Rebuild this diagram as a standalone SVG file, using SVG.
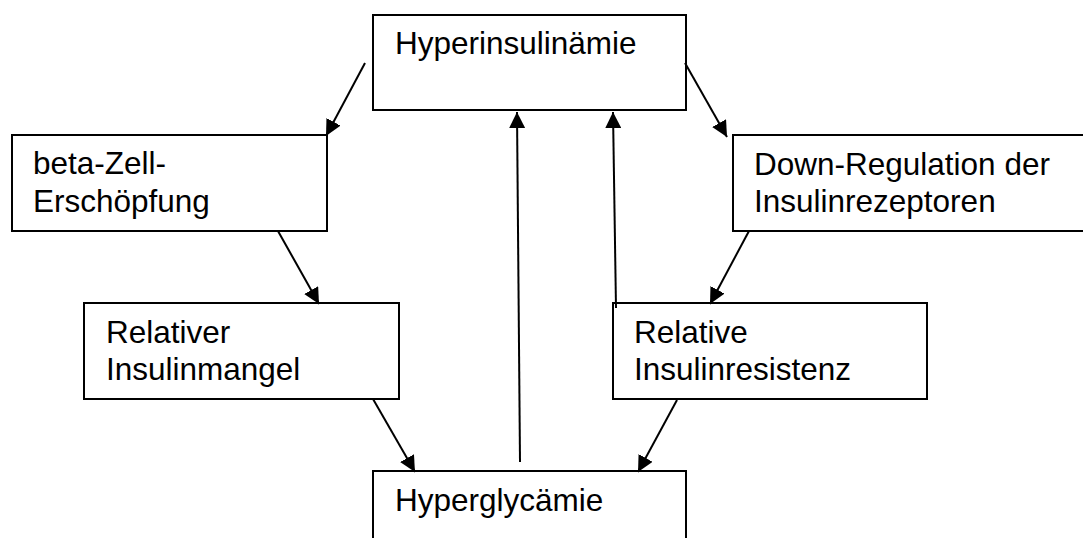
<svg xmlns="http://www.w3.org/2000/svg" width="1083" height="538" viewBox="0 0 1083 538">
<style>
.box{fill:#fff;stroke:#000;stroke-width:2}
.lbl{font-family:"Liberation Sans",Arial,sans-serif;font-size:31.5px;fill:#000}
.con{stroke:#000;stroke-width:2;fill:none;marker-end:url(#ah)}
</style>
<defs>
<marker id="ah" markerUnits="userSpaceOnUse" markerWidth="17" markerHeight="16" refX="16" refY="8" orient="auto">
<path d="M0,0 L16,8 L0,16 z" fill="#000"/>
</marker>
</defs>
<rect width="1083" height="538" fill="#fff"/>
<g id="n-hyperinsulinaemie">
<rect class="box" x="373" y="15" width="313" height="95"/>
<text class="lbl" x="395" y="54">Hyperinsulinämie</text>
</g>
<g id="n-beta">
<rect class="box" x="12" y="135" width="315" height="96"/>
<text class="lbl" x="33" y="174">beta-Zell-</text>
<text class="lbl" x="33" y="211.5">Erschöpfung</text>
</g>
<g id="n-down">
<rect class="box" x="733" y="135" width="360" height="96"/>
<text class="lbl" x="754" y="175">Down-Regulation der</text>
<text class="lbl" x="754" y="211.5">Insulinrezeptoren</text>
</g>
<g id="n-mangel">
<rect class="box" x="84" y="303" width="315" height="96"/>
<text class="lbl" x="106" y="342.5">Relativer</text>
<text class="lbl" x="106" y="380">Insulinmangel</text>
</g>
<g id="n-resistenz">
<rect class="box" x="613" y="303" width="314" height="96"/>
<text class="lbl" x="634" y="342.5">Relative</text>
<text class="lbl" x="634" y="380">Insulinresistenz</text>
</g>
<g id="n-hyperglycaemie">
<rect class="box" x="373" y="471" width="313" height="90"/>
<text class="lbl" x="395" y="510.5">Hyperglycämie</text>
</g>
<g id="connectors">
<line class="con" x1="365" y1="63" x2="326" y2="136"/>
<line class="con" x1="685" y1="63" x2="727" y2="137"/>
<line class="con" x1="278" y1="231" x2="319" y2="304"/>
<line class="con" x1="749" y1="231" x2="710" y2="304"/>
<line class="con" x1="373" y1="399" x2="415" y2="472"/>
<line class="con" x1="677" y1="400" x2="638" y2="472"/>
<line class="con" x1="520" y1="462" x2="517" y2="112"/>
<line class="con" x1="616" y1="308" x2="613" y2="112"/>
</g>
</svg>
